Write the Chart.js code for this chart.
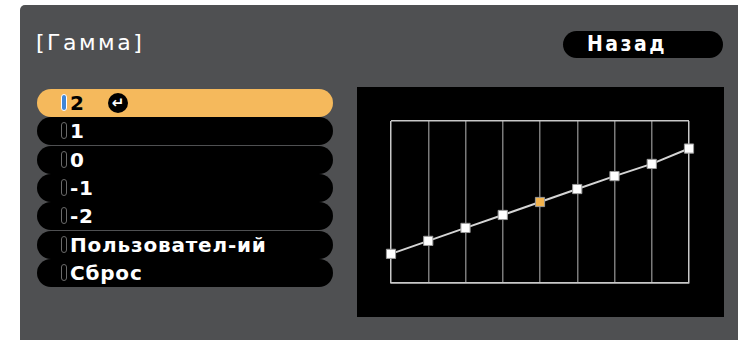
<!DOCTYPE html>
<html>
<head>
<meta charset="utf-8">
<script src="https://cdn.jsdelivr.net/npm/chart.js@4/dist/chart.umd.min.js"></script>
<style>
  html, body { margin: 0; padding: 0; background: #fff; }
  body { width: 738px; height: 340px; position: relative; overflow: hidden;
         font-family: "DejaVu Sans", sans-serif; }
  #panel { position: absolute; left: 20px; top: 5px; width: 740px; height: 345px;
           background: #4f5052; border-radius: 5px 0 0 0; }
  #title { position: absolute; left: 36px; top: 30px; color: #fff; font-size: 22px;
           letter-spacing: 2.5px; }
  #back { position: absolute; left: 563px; top: 31px; width: 160px; height: 27px;
          background: #000; border-radius: 14px; color: #fff; font-size: 21px;
          font-weight: bold; line-height: 27px; text-indent: 24px; letter-spacing: 2.5px;
          font-family: "DejaVu Sans Condensed", sans-serif; }
  .row { position: absolute; left: 37px; width: 296px; height: 28px; background: #000;
         border-radius: 14px; color: #fff; font-size: 20px; font-weight: bold;
         line-height: 28px; letter-spacing: 0.8px; }
  .row.sel { background: #f5b95c; color: #000; }
  .row .mark { position: absolute; left: 24px; top: 5px; width: 4px; height: 15px;
               border: 1px solid #6a6a6a; border-radius: 3px; }
  .row.sel .mark { background: #3f86d6; border-color: #fff; }
  .row .txt { position: absolute; left: 33px; top: 0; }
  .row .enter { position: absolute; left: 71px; top: 4px; width: 20px; height: 20px;
                border-radius: 10px; background: #000; color: #fff; font-size: 15px;
                line-height: 20px; text-align: center; letter-spacing: 0; }
  #box { position: absolute; left: 357px; top: 87px; width: 367px; height: 230px; background: #000; }
</style>
</head>
<body>
<div id="panel"></div>
<div id="title">[Гамма]</div>
<div id="back">Назад</div>
<div id="menu"></div>
<div id="box"><canvas id="gamma" width="367" height="230"></canvas></div>
<script>
const menuItems = ['2', '1', '0', '-1', '-2', 'Пользовател-ий', 'Сброс'];
const selectedItem = 0;

const points = ['1', '2', '3', '4', '5', '6', '7', '8', '9'];
const levels = [18, 26, 34, 42, 50, 58, 66, 73.5, 83];
const activePoint = 4;

// menu on the left
const menu = document.getElementById('menu');
menuItems.forEach((label, i) => {
  const row = document.createElement('div');
  row.className = 'row' + (i === selectedItem ? ' sel' : '');
  row.style.top = (89 + i * 28.3) + 'px';
  row.innerHTML = '<span class="mark"></span><span class="txt">' + label + '</span>' +
    (i === selectedItem ? '<span class="enter">&#8629;</span>' : '');
  menu.appendChild(row);
});

const edge = (ctx) => (ctx.index === 0 || ctx.index === points.length - 1) ? '#c8c8c8' : '#7a7a7a';

new Chart(document.getElementById('gamma'), {
  type: 'line',
  data: {
    labels: points,
    datasets: [{
      data: levels,
      borderColor: '#d4d4d4',
      borderWidth: 2,
      pointStyle: 'rect',
      pointRadius: 6.5,
      pointBorderWidth: 1,
      pointBorderColor: '#9a9a9a',
      pointBackgroundColor: levels.map((v, i) => i === activePoint ? '#f2b34e' : '#ffffff'),
      fill: false,
      tension: 0
    }]
  },
  options: {
    responsive: false,
    animation: false,
    layout: { padding: { left: 34, right: 35, top: 34, bottom: 34 } },
    plugins: { legend: { display: false }, tooltip: { enabled: false } },
    scales: {
      x: {
        offset: false,
        ticks: { display: false },
        grid: { color: edge, lineWidth: 1.5, drawTicks: false, tickLength: 0 },
        border: { display: true, color: '#c8c8c8', width: 1.5 }
      },
      y: {
        min: 0, max: 100,
        ticks: { display: false, stepSize: 100 },
        grid: { color: '#c8c8c8', lineWidth: 1.5, drawTicks: false, tickLength: 0 },
        border: { display: false }
      }
    }
  }
});
</script>
</body>
</html>
